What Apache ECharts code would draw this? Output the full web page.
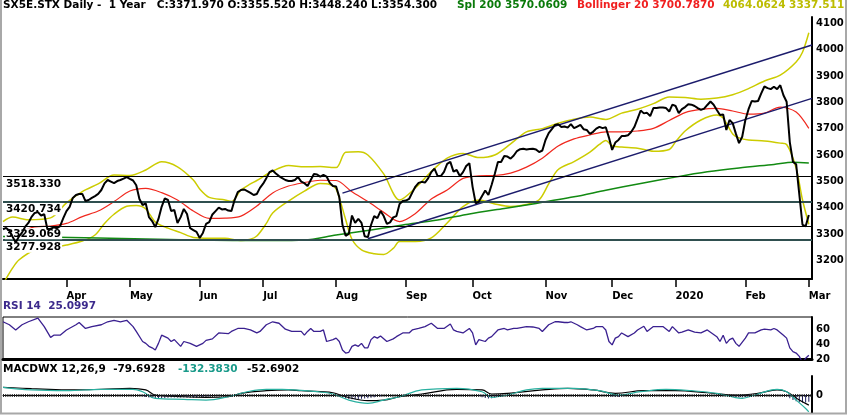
<!DOCTYPE html>
<html>
<head>
<meta charset="utf-8">
<script src="https://cdn.jsdelivr.net/npm/echarts@6/dist/echarts.min.js"></script>
<style>
html, body { margin: 0; padding: 0; background: #fff; }
#chart { width: 850px; height: 417px; }
</style>
</head>
<body>
<div id="chart"></div>
<script>
// exchange holidays inside the year shown
const holidays = ['2019-04-19', '2019-04-22', '2019-05-01', '2019-12-25', '2019-12-26', '2020-01-01'];
const monthNames = ['Jan', 'Feb', 'Mar', 'Apr', 'May', 'Jun', 'Jul', 'Aug', 'Sep', 'Oct', 'Nov', 'Dec'];

// daily close, 2019-03-04 .. 2020-03-02
const closes = [
  3318, 3323, 3312, 3290, 3268, 3290, 3305, 3328, 3342, 3365,
  3380, 3383, 3370, 3375, 3318, 3320, 3325, 3322, 3330, 3360,
  3387, 3403, 3437, 3448, 3452, 3452, 3425, 3429, 3437, 3444,
  3452, 3467, 3492, 3505, 3499, 3493, 3501, 3505, 3510, 3516,
  3509, 3503, 3485, 3433, 3410, 3416, 3364, 3349, 3326, 3357,
  3403, 3435, 3429, 3387, 3391, 3342, 3364, 3395, 3376, 3322,
  3315, 3308, 3285, 3304, 3338, 3345, 3374, 3387, 3400, 3393,
  3395, 3389, 3387, 3429, 3459, 3467, 3469, 3463, 3456, 3448,
  3452, 3475, 3491, 3512, 3535, 3541, 3530, 3520, 3512, 3505,
  3501, 3501, 3505, 3516, 3499, 3493, 3482, 3505, 3528, 3526,
  3518, 3524, 3518, 3494, 3482, 3480, 3440, 3335, 3293, 3300,
  3370, 3342, 3357, 3342, 3291, 3288, 3334, 3368, 3360, 3387,
  3368, 3338, 3344, 3363, 3368, 3414, 3425, 3427, 3433, 3457,
  3480, 3494, 3498, 3495, 3511, 3535, 3548, 3520, 3520, 3536,
  3566, 3574, 3537, 3543, 3520, 3535, 3558, 3569, 3480, 3416,
  3423, 3444, 3465, 3448, 3486, 3528, 3573, 3573, 3596, 3594,
  3586, 3598, 3615, 3622, 3624, 3621, 3623, 3624, 3621, 3611,
  3617, 3657, 3683, 3698, 3714, 3717, 3706, 3708, 3704, 3717,
  3702, 3708, 3714, 3698, 3695, 3680, 3688, 3700, 3707, 3702,
  3705, 3666, 3619, 3647, 3657, 3672, 3672, 3675, 3687, 3706,
  3737, 3769, 3758, 3760, 3748, 3778, 3778, 3780, 3780, 3778,
  3765, 3791, 3786, 3759, 3774, 3782, 3793, 3791, 3786, 3778,
  3771, 3776, 3790, 3803, 3791, 3771, 3752, 3754, 3695, 3733,
  3721, 3681, 3645, 3669, 3733, 3774, 3805, 3803, 3805, 3834,
  3860, 3854, 3850, 3859, 3850, 3865, 3827, 3802, 3649, 3574,
  3565, 3450, 3335, 3329, 3372
];

// indicator readings as [day index, value]
const bollUpper = [[0,3347],[3,3364],[8,3354],[15,3361],[20,3418],[25,3461],[30,3490],[35,3524],[40,3522],[45,3543],[50,3574],[55,3555],[60,3505],[62,3471],[65,3439],[70,3429],[72,3423],[75,3467],[78,3490],[80,3503],[85,3539],[90,3560],[95,3555],[100,3556],[105,3552],[108,3610],[112,3612],[115,3600],[120,3528],[125,3429],[130,3475],[135,3537],[140,3588],[145,3606],[150,3590],[155,3600],[160,3642],[165,3688],[170,3700],[175,3721],[180,3736],[185,3744],[190,3735],[195,3759],[200,3774],[205,3795],[210,3820],[215,3818],[220,3812],[225,3816],[230,3829],[235,3852],[240,3881],[245,3903],[250,3953],[252,3990],[254,4064]];
const bollMid = [[0,3275],[5,3305],[10,3327],[15,3330],[20,3340],[25,3366],[30,3387],[35,3423],[40,3463],[45,3473],[50,3457],[55,3429],[60,3387],[65,3359],[70,3360],[75,3368],[80,3406],[85,3456],[90,3482],[95,3495],[100,3504],[105,3503],[110,3460],[115,3423],[120,3382],[125,3347],[130,3378],[135,3433],[140,3467],[145,3511],[150,3521],[155,3522],[160,3531],[165,3554],[170,3588],[175,3634],[180,3661],[185,3676],[190,3688],[195,3688],[200,3691],[205,3701],[210,3731],[215,3761],[220,3773],[225,3777],[230,3767],[235,3755],[240,3759],[245,3782],[250,3763],[254,3701]];
const bollLower = [[0,3110],[3,3170],[5,3201],[10,3239],[15,3247],[20,3258],[25,3273],[29,3296],[32,3340],[35,3375],[39,3405],[42,3408],[45,3395],[48,3345],[52,3322],[56,3305],[60,3287],[65,3284],[70,3284],[75,3275],[78,3280],[80,3292],[83,3340],[85,3380],[90,3425],[95,3463],[100,3492],[103,3488],[105,3471],[108,3355],[110,3280],[113,3240],[117,3225],[120,3222],[123,3245],[125,3271],[130,3271],[135,3285],[140,3342],[145,3404],[150,3429],[155,3414],[160,3404],[165,3412],[169,3430],[172,3490],[175,3545],[180,3575],[185,3611],[188,3640],[190,3655],[192,3635],[195,3630],[200,3626],[205,3614],[210,3621],[212,3650],[215,3691],[220,3733],[225,3752],[227,3740],[230,3680],[232,3665],[235,3657],[240,3653],[245,3645],[247,3640],[250,3550],[252,3430],[254,3337]];
const sma200 = [[0,3290],[30,3285],[60,3277],[85,3275],[95,3277],[105,3296],[116,3315],[126,3334],[137,3353],[147,3376],[158,3397],[168,3416],[180,3441],[190,3466],[201,3492],[211,3514],[222,3536],[232,3551],[243,3564],[249,3572],[254,3570]];

const channelUpper = [[107, 3455], [255, 4018]];
const channelLower = [[115, 3282], [255, 3815]];
const levels = [3518.330, 3420.734, 3329.069, 3277.928];

const rsi = [[0,70],[2,66],[4,59],[6,66],[8,70],[11,75],[13,63.5],[15,49],[16,52],[18,52],[20,59],[23,66],[24,69],[26,61],[28,63.5],[31,66],[33,70],[35,72],[37,70],[39,72],[41,63.5],[42,57],[44,43.5],[45,41],[46,37],[47,35],[48,32],[49,41],[50,52],[52,48],[53,43.5],[54,46],[56,37],[57,43.5],[59,41],[61,37],[63,41],[64,45],[66,47],[68,55],[71,54],[72,57],[74,61],[76,61],[78,59],[80,55],[81,57],[83,66],[85,70],[87,68],[89,60],[91,57],[94,57],[95,52],[96,57],[97,61],[98,57],[100,57],[101,59],[102,43.5],[104,46],[105,48],[106,43.5],[107,32],[108,28],[109,29],[110,37],[111,39],[112,37],[113,41],[114,35],[115,35],[116,46],[117,50],[118,48],[119,51],[121,43.5],[123,47],[124,50],[126,55],[128,55],[129,59],[131,61],[133,63.5],[135,68],[137,61],[139,61],[141,67],[142,59],[143,57],[145,55],[147,61],[148,55],[149,39],[150,46],[152,43.5],[153,48],[154,50],[156,59],[158,61],[159,59],[161,61],[162,61],[165,63.5],[167,63],[169,61],[170,57],[172,66],[174,70],[175,70],[177,69],[178,69],[179,70],[181,66],[182,63.5],[184,59],[186,61],[187,63.5],[189,63.5],[190,59],[191,43.5],[192,39],[193,48],[194,50],[195,55],[197,50],[199,55],[200,59],[202,64],[203,57],[205,63.5],[206,63.5],[208,63.5],[210,57],[211,63.5],[213,55],[214,56],[216,59],[218,56],[220,55],[222,59],[223,56],[225,50],[226,43.5],[227,52],[228,41],[229,46],[230,48],[231,41],[232,37],[234,48],[235,55],[237,55],[239,59],[240,60],[242,59],[243,61],[244,59],[246,52],[247,48],[248,35],[249,30],[250,28],[251,23.5],[252,15],[253,21],[254,25.1]];

const macdSignal = [[0,61],[9,50],[20,40],[31,45],[40,53],[45,40],[48,0],[57,-13.5],[64,-18],[71,-13.5],[75,13.5],[83,34],[90,40],[94,34],[100,26],[104,18],[108,-13.5],[115,-45],[120,-40],[125,-13.5],[132,8],[143,45],[151,40],[154,8],[159,13.5],[170,40],[178,53],[186,40],[193,13.5],[202,34],[212,34],[222,18],[231,0],[238,13.5],[244,40],[247,26],[251,-40],[254,-79.7]];
const macdLine = [[0,61],[9,40],[20,34],[31,45],[41,45],[44,26],[48,-26],[57,-34],[64,-40],[71,-13.5],[77,26],[83,45],[88,45],[99,26],[104,8],[109,-40],[115,-66],[120,-40],[125,-13.5],[132,40],[143,53],[151,26],[154,-18],[159,0],[165,40],[170,53],[180,53],[188,34],[194,0],[201,26],[209,45],[217,34],[225,13.5],[233,-26],[237,0],[244,45],[247,26],[250,-40],[253,-106],[254,-132.4]];
const macdHist = [[44,-10],[45,-15],[46,-20],[47,-24],[48,-26],[49,-26],[50,-25],[51,-24],[52,-22],[53,-20],[54,-20],[55,-20],[56,-20],[57,-20],[58,-22],[59,-22],[60,-22],[61,-20],[62,-18],[63,-16],[64,-14],[65,-10],[66,-6],
  [106,-10],[107,-20],[108,-28],[109,-32],[110,-34],[111,-34],[112,-32],[113,-30],[114,-28],[115,-26],[116,-22],[117,-18],[118,-14],[119,-10],
  [150,-10],[151,-18],[152,-24],[153,-28],[154,-26],[155,-22],[156,-16],[157,-10],
  [191,-8],[192,-14],[193,-16],[194,-14],[195,-10],
  [229,-8],[230,-12],[231,-16],[232,-20],[233,-20],[234,-16],[235,-10],
  [247,-10],[248,-25],[249,-40],[250,-50],[251,-58],[252,-60],[253,-60],[254,-52.7]];

const priceTicks = [3200, 3300, 3400, 3500, 3600, 3700, 3800, 3900, 4000, 4100];
const rsiTicks = [20, 40, 60];
const macdTicks = [0];

const headerMain = 'SX5E.STX Daily -  1 Year   C:3371.970 O:3355.520 H:3448.240 L:3354.300';
const headerSma = 'Spl 200 3570.0609';
const headerBoll = 'Bollinger 20 3700.7870';
const headerBands = '4064.0624 3337.511';

function tradingDays(from, to) {
  const out = [];
  const d = new Date(from + 'T00:00:00Z');
  const stop = new Date(to + 'T00:00:00Z');
  while (d <= stop) {
    const s = d.toISOString().slice(0, 10);
    const wd = d.getUTCDay();
    if (wd !== 0 && wd !== 6 && holidays.indexOf(s) < 0) out.push(s);
    d.setUTCDate(d.getUTCDate() + 1);
  }
  return out;
}

// one empty day after the last close
const dates = tradingDays('2019-03-04', '2020-03-03');

function isMonthStart(idx) {
  return idx > 0 && dates[idx].slice(5, 7) !== dates[idx - 1].slice(5, 7);
}
function monthLabel(value) {
  const m = +value.slice(5, 7);
  return m === 1 ? value.slice(0, 4) : monthNames[m - 1];
}
function plain(v) {
  return String(v);
}

const FONT = 'DejaVu Sans';
const headFont = 'bold 10.5px "DejaVu Sans"';
const axisText = { color: '#000', fontWeight: 'bold', fontSize: 10, fontFamily: FONT };

function lineSeries(data, color, width, axis, extra) {
  return Object.assign({
    type: 'line', data: data, xAxisIndex: axis, yAxisIndex: axis,
    symbol: 'none', silent: true, lineStyle: { color: color, width: width }
  }, extra || {});
}

const levelStyles = [
  { color: '#000', width: 1 },
  { color: '#2f4f4f', width: 2 },
  { color: '#000', width: 1.2 },
  { color: '#2f4f4f', width: 2 }
];

const chart = echarts.init(document.getElementById('chart'));

chart.setOption({
  animation: false,
  textStyle: { fontFamily: FONT },
  grid: [
    { left: 3, right: 38, top: 17, height: 262 },
    { left: 3, right: 38, top: 317, height: 42, show: true, borderColor: '#000', borderWidth: 1 },
    { left: 3, right: 38, top: 376, height: 36 }
  ],
  xAxis: [
    {
      type: 'category', gridIndex: 0, data: dates, boundaryGap: false,
      axisLine: { lineStyle: { color: '#000', width: 2 } },
      axisTick: { interval: isMonthStart, length: 8, lineStyle: { color: '#000', width: 1.5 } },
      axisLabel: Object.assign({ interval: isMonthStart, formatter: monthLabel, align: 'left', margin: 12 }, axisText),
      splitLine: { show: false }
    },
    {
      type: 'category', gridIndex: 1, data: dates, boundaryGap: false,
      axisLine: { lineStyle: { color: '#000', width: 3 } },
      axisTick: { show: false }, axisLabel: { show: false }
    },
    {
      type: 'category', gridIndex: 2, data: dates, boundaryGap: false,
      axisLine: { onZero: true, lineStyle: { color: '#000', width: 1 } },
      axisTick: { show: false }, axisLabel: { show: false }
    }
  ],
  yAxis: [
    {
      type: 'value', gridIndex: 0, position: 'right', min: 3129, max: 4124,
      splitLine: { show: false }, axisTick: { show: false },
      axisLine: { show: true, lineStyle: { color: '#000', width: 2 } },
      axisLabel: Object.assign({ customValues: priceTicks, formatter: plain, margin: 4 }, axisText)
    },
    {
      type: 'value', gridIndex: 1, position: 'right', min: 20, max: 76.4,
      splitLine: { show: false }, axisTick: { show: false },
      axisLine: { show: true, lineStyle: { color: '#000', width: 2 } },
      axisLabel: Object.assign({ customValues: rsiTicks, formatter: plain, margin: 4 }, axisText)
    },
    {
      type: 'value', gridIndex: 2, position: 'right', min: -134, max: 150,
      splitLine: { show: false }, axisTick: { show: false },
      axisLine: { show: true, lineStyle: { color: '#000', width: 2 } },
      axisLabel: Object.assign({ customValues: macdTicks, formatter: plain, margin: 4 }, axisText)
    }
  ],
  series: [
    lineSeries(bollUpper, '#cccc00', 1.5, 0, { smooth: 0.3 }),
    lineSeries(bollLower, '#cccc00', 1.5, 0, { smooth: 0.3 }),
    lineSeries(bollMid, '#f0281e', 1.2, 0, { smooth: 0.3 }),
    lineSeries(sma200, '#128a12', 1.5, 0, { smooth: 0.3 }),
    lineSeries(channelUpper, '#1c1c6c', 1.5, 0),
    lineSeries(channelLower, '#1c1c6c', 1.5, 0),
    lineSeries(closes, '#000', 2, 0, { z: 5 }),
    // horizontal levels, their labels sit on a white box above the price
    lineSeries([], '#000', 1, 0, {
      z: 6,
      markLine: {
        silent: true, symbol: 'none', animation: false,
        data: levels.map(function (v, k) {
          return {
            yAxis: v,
            lineStyle: Object.assign({ type: 'solid' }, levelStyles[k]),
            label: {
              show: true, position: 'insideStartBottom', distance: [2, 2],
              formatter: v.toFixed(3), color: '#000', fontSize: 10.5, fontWeight: 'bold', fontFamily: FONT,
              backgroundColor: '#fff', padding: [0, 1]
            }
          };
        })
      }
    }),

    lineSeries(rsi, '#3a2090', 1.3, 1),

    {
      type: 'bar', data: macdHist, xAxisIndex: 2, yAxisIndex: 2, barWidth: 1, silent: true,
      itemStyle: { color: '#1a1a5a' },
      markLine: {
        silent: true, symbol: 'none', animation: false, label: { show: false },
        data: [{ yAxis: 0, lineStyle: { color: '#222', width: 3, type: [1, 1.2] } }]
      }
    },
    lineSeries(macdSignal, '#000', 1.2, 2, { smooth: 0.4 }),
    lineSeries(macdLine, '#2ab0a0', 1.2, 2, { smooth: 0.4 })
  ],
  graphic: [
    { type: 'text', left: 3, top: 0, style: { text: headerMain, fill: '#000', font: headFont } },
    { type: 'text', left: 457, top: 0, style: { text: headerSma, fill: '#0a7a0a', font: headFont } },
    { type: 'text', left: 577, top: 0, style: { text: headerBoll, fill: '#f02020', font: headFont } },
    { type: 'text', left: 723, top: 0, style: { text: headerBands, fill: '#bcbc00', font: headFont } },
    { type: 'text', left: 3, top: 301, style: { text: 'RSI 14  25.0997', fill: '#3c2a8c', font: headFont } },
    { type: 'text', left: 3, top: 364, style: { text: 'MACDWX 12,26,9  -79.6928', fill: '#000', font: headFont } },
    { type: 'text', left: 178, top: 364, style: { text: '-132.3830', fill: '#1a9a8a', font: headFont } },
    { type: 'text', left: 247, top: 364, style: { text: '-52.6902', fill: '#000', font: headFont } },
    {
      type: 'rect', silent: true,
      shape: { x: 1, y: -10, width: 845, height: 423.5 },
      style: { fill: 'none', stroke: '#a8a8a8', lineWidth: 2 }
    }
  ]
});
</script>
</body>
</html>
